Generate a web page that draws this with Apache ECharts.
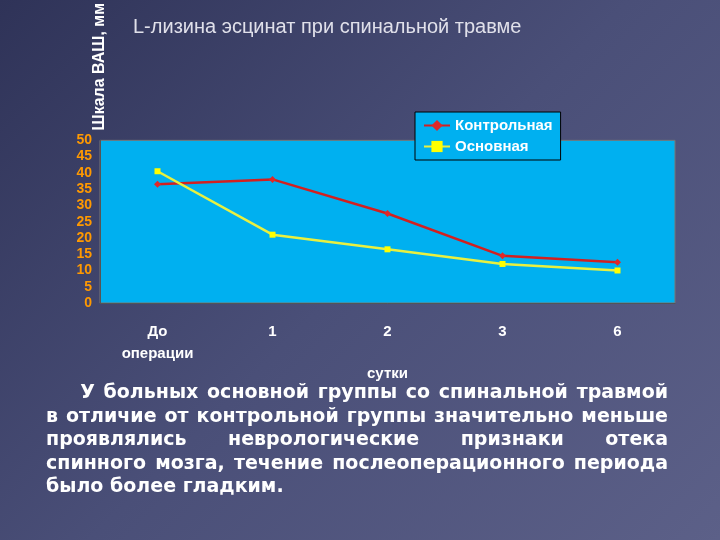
<!DOCTYPE html>
<html><head><meta charset="utf-8">
<script src="https://cdn.jsdelivr.net/npm/echarts@6/dist/echarts.min.js"></script>
<style>
body{margin:0;}
#wrap{position:relative;width:720px;height:540px;background:linear-gradient(135deg,#2f3358 0%,#4a4f78 50%,#5c6088 100%);}
#chart{position:absolute;left:0;top:0;width:720px;height:540px;}
#note{position:absolute;left:46px;top:380px;width:622px;color:#fff;font-family:"DejaVu Sans",Arial,sans-serif;font-weight:bold;font-size:19px;line-height:23.5px;text-align:justify;text-indent:1.8em;}
</style></head><body>
<div id="wrap"><div id="chart"></div>
<div id="note">У больных основной группы со спинальной травмой в отличие от контрольной группы значительно меньше проявлялись неврологические признаки отека спинного мозга, течение послеоперационного периода было более гладким.</div></div>
<script>
var categories = ['До\nоперации', '1', '2', '3', '6'];
var control = [36.5, 38, 27.5, 14.5, 12.5];
var mainGroup = [40.5, 21, 16.5, 12, 10];

var chart = echarts.init(document.getElementById('chart'));
var option = {
    backgroundColor: 'transparent',
    title: {
        text: 'L-лизина эсцинат при спинальной травме',
        left: 128, top: 12,
        textStyle: {color: '#e0e0ea', fontSize: 20, fontWeight: 'normal', fontFamily: 'Liberation Sans'}
    },
    legend: {
        data: ['Контрольная', 'Основная'],
        orient: 'vertical',
        left: 415, top: 112,
        padding: [6, 8],
        itemGap: 6,
        itemWidth: 26,
        borderColor: '#000', borderWidth: 1,
        backgroundColor: '#00b0f0',
        textStyle: {color: '#fff', fontSize: 15, fontWeight: 'bold', fontFamily: 'Liberation Sans'}
    },
    grid: {left: 100, right: 45, top: 83, bottom: 237, show: true, backgroundColor: '#00b0f0', borderColor: '#777', borderWidth: 1},
    xAxis: {
        type: 'category',
        data: categories,
        name: 'сутки', nameLocation: 'middle', nameGap: 50,
        nameTextStyle: {color: '#fff', fontSize: 15, fontWeight: 'bold', fontFamily: 'Liberation Sans'},
        axisLine: {lineStyle: {color: '#555'}},
        axisTick: {show: false},
        axisLabel: {color: '#fff', fontSize: 15, fontWeight: 'bold', fontFamily: 'Liberation Sans', margin: 18, lineHeight: 22}
    },
    yAxis: {
        type: 'value', min: 0, max: 50, interval: 5,
        name: 'Шкала ВАШ, мм', nameLocation: 'end', nameGap: 26, nameRotate: 90,
        nameTextStyle: {color: '#fff', fontSize: 16, fontWeight: 'bold', fontFamily: 'Liberation Sans', align: 'right', verticalAlign: 'middle', padding: [0, 0, 0, 0]},
        axisLine: {show: true, lineStyle: {color: '#555'}},
        axisTick: {show: false},
        splitLine: {show: false},
        axisLabel: {color: '#ff9900', fontSize: 14, fontWeight: 'bold', fontFamily: 'Liberation Sans'}
    },
    series: [
        {name: 'Контрольная', type: 'line', data: control, symbol: 'diamond', symbolSize: 7,
         itemStyle: {color: '#e02828'}, lineStyle: {color: '#d22020', width: 2.5}},
        {name: 'Основная', type: 'line', data: mainGroup, symbol: 'rect', symbolSize: 6,
         itemStyle: {color: '#ffff00'}, lineStyle: {color: '#e8f040', width: 2.5}}
    ]
};
chart.setOption(option);
</script></body></html>
